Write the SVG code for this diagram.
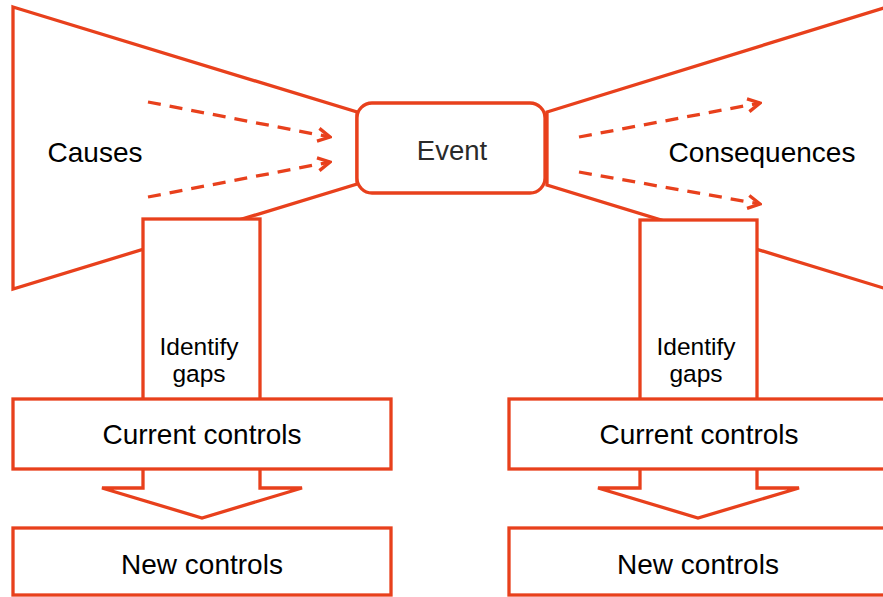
<svg xmlns="http://www.w3.org/2000/svg" width="883" height="597" viewBox="0 0 883 597">
<style>
.s{fill:#fff;stroke:#E8401C;stroke-width:3.3;stroke-linejoin:miter}
.d{fill:none;stroke:#E8401C;stroke-width:3.3;stroke-dasharray:13 9}
.t{font-family:"Liberation Sans",Arial,sans-serif;font-size:28px;fill:#000;text-anchor:middle}
.g{font-family:"Liberation Sans",Arial,sans-serif;font-size:24.5px;fill:#000;text-anchor:middle}
.e{font-family:"Liberation Sans",Arial,sans-serif;font-size:27.5px;fill:#2a2a2a;text-anchor:middle}
</style>
<defs>
<marker id="ah" markerUnits="userSpaceOnUse" viewBox="0 0 16 16" refX="14" refY="8" markerWidth="16" markerHeight="16" orient="auto">
<path d="M2,1.5 L14,8 L2,14.5" fill="none" stroke="#E8401C" stroke-width="3.3"/>
</marker>
</defs>
<rect width="883" height="597" fill="#fff"/>
<g id="causes">
<polygon class="s" points="13,7 357,112 357,184 13,289"/>
<text class="t" x="95" y="162">Causes</text>
</g>
<g id="consequences">
<polygon class="s" points="547,112 890,6 890,290 547,185"/>
<text class="t" x="762" y="162">Consequences</text>
</g>
<g id="left-gap">
<rect class="s" x="143" y="219" width="117" height="190"/>
<text class="g" x="199" y="355">Identify</text>
<text class="g" x="199" y="382">gaps</text>
</g>
<g id="right-gap">
<rect class="s" x="640" y="220" width="117" height="189"/>
<text class="g" x="696" y="355">Identify</text>
<text class="g" x="696" y="382">gaps</text>
</g>
<g id="left-down-arrow">
<polygon class="s" points="143,460 143,488 102,488 202,518 302,488 260,488 260,460"/>
</g>
<g id="right-down-arrow">
<polygon class="s" points="640,460 640,488 598,488 698,518 799,488 757,488 757,460"/>
</g>
<g id="left-current">
<rect class="s" x="13" y="399" width="378" height="70"/>
<text class="t" x="202" y="444">Current controls</text>
</g>
<g id="right-current">
<rect class="s" x="509" y="399" width="381" height="70"/>
<text class="t" x="699" y="444">Current controls</text>
</g>
<g id="left-new">
<rect class="s" x="13" y="528" width="378" height="67"/>
<text class="t" x="202" y="574">New controls</text>
</g>
<g id="right-new">
<rect class="s" x="509" y="528" width="381" height="67"/>
<text class="t" x="698" y="574">New controls</text>
</g>
<g id="event">
<rect class="s" x="357" y="103" width="188" height="90" rx="15"/>
<text class="e" x="452" y="160">Event</text>
</g>
<g id="connectors">
<line class="d" x1="148" y1="102" x2="330" y2="137" marker-end="url(#ah)"/>
<line class="d" x1="148" y1="197" x2="330" y2="162" marker-end="url(#ah)"/>
<line class="d" x1="579" y1="137" x2="760" y2="103" marker-end="url(#ah)"/>
<line class="d" x1="579" y1="172" x2="760" y2="204" marker-end="url(#ah)"/>
</g>
</svg>
